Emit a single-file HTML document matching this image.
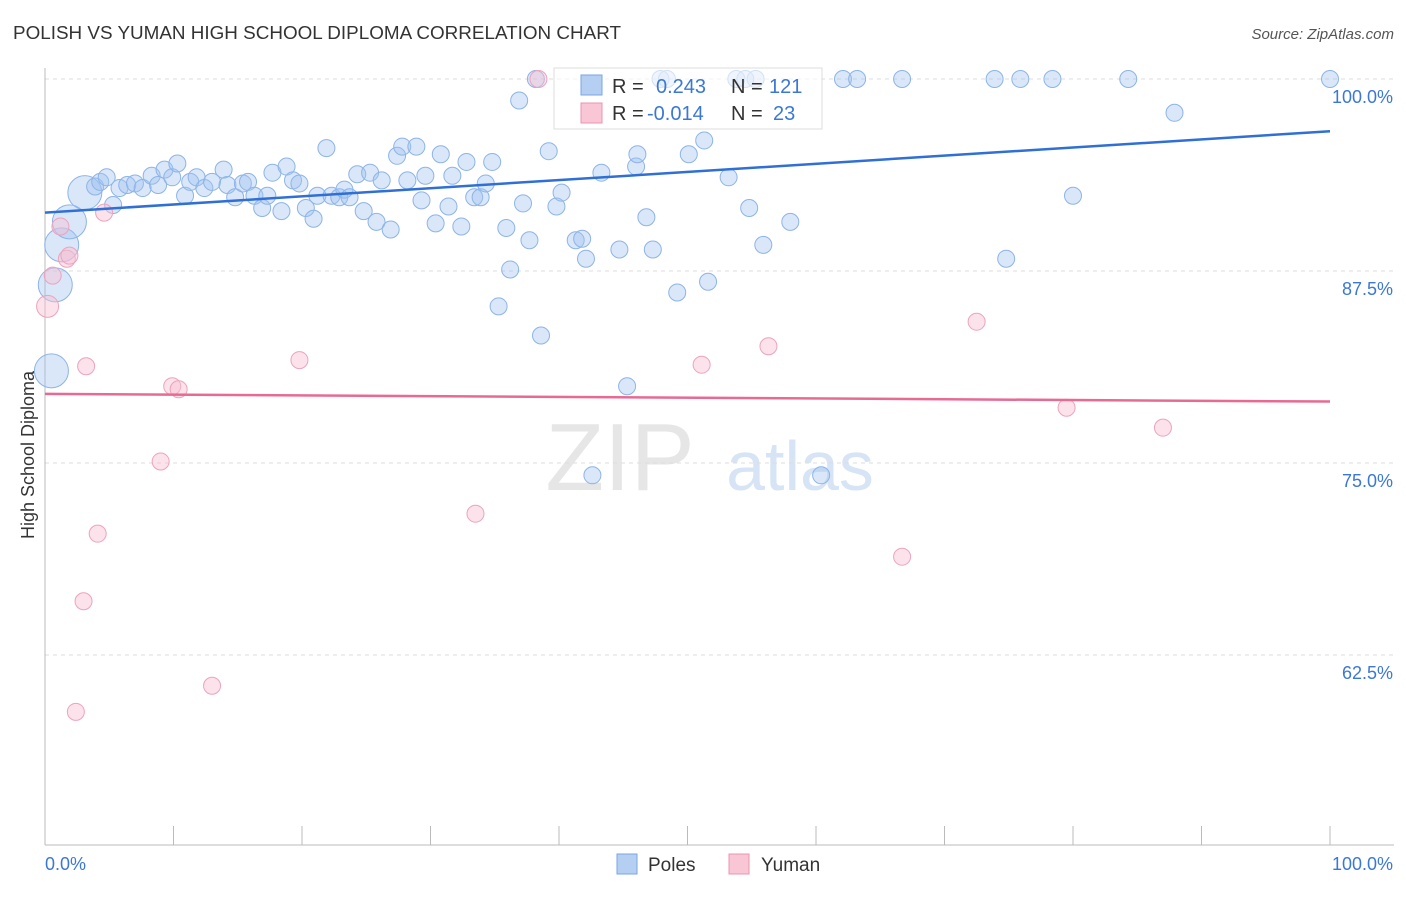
<!DOCTYPE html>
<html><head><meta charset="utf-8"><style>
body{margin:0;background:#fff;font-family:"Liberation Sans",sans-serif;}
svg text{font-family:"Liberation Sans",sans-serif;}
</style></head><body>
<svg id="chart" width="1406" height="892">
<text x="13" y="39" font-size="18" fill="#333" textLength="608" lengthAdjust="spacingAndGlyphs">POLISH VS YUMAN HIGH SCHOOL DIPLOMA CORRELATION CHART</text>
<text x="1394" y="39" font-size="15" fill="#555" text-anchor="end" font-style="italic">Source: ZipAtlas.com</text>
<text x="620" y="490" font-size="96" fill="#e6e6e6" font-family="Liberation Serif" text-anchor="middle">ZIP</text>
<text x="800" y="490" font-size="70" fill="#d6e4f5" text-anchor="middle">atlas</text>
<g id="grid"></g><g id="axes"></g><g id="pts"></g><g id="lines"></g>
<text transform="translate(34,455) rotate(-90)" font-size="18" fill="#333" text-anchor="middle">High School Diploma</text>
<g>
<rect x="554" y="68" width="268" height="61" fill="rgba(255,255,255,0.6)" stroke="#ddd"/>
<rect x="581" y="75" width="21" height="20" fill="#b5cff2" stroke="#7aa6e0"/>
<rect x="581" y="103" width="21" height="20" fill="#f9c6d6" stroke="#eb94b0"/>
<text x="612" y="93" font-size="20" fill="#333">R =</text><text x="656" y="93" font-size="20" fill="#3b78d6">0.243</text>
<text x="731" y="93" font-size="20" fill="#333">N =</text><text x="769" y="93" font-size="20" fill="#3b78d6">121</text>
<text x="612" y="120" font-size="20" fill="#333">R =</text><text x="647" y="120" font-size="20" fill="#3b78d6">-0.014</text>
<text x="731" y="120" font-size="20" fill="#333">N =</text><text x="773" y="120" font-size="20" fill="#3b78d6">23</text>
</g>
<g>
<rect x="617" y="854" width="20" height="20" fill="#b5cff2" stroke="#7aa6e0"/><text x="648" y="871" font-size="19" fill="#333">Poles</text>
<rect x="729" y="854" width="20" height="20" fill="#f9c6d6" stroke="#eb94b0"/><text x="761" y="871" font-size="19" fill="#333">Yuman</text>
</g>
</svg>
<script>
const blueX=[0.5,0.8,1.3,1.9,3.1,3.9,4.3,4.8,5.3,5.8,6.4,7.0,7.6,8.3,8.8,9.3,9.9,10.3,10.9,11.3,11.8,12.4,13.0,13.9,14.2,14.8,15.4,15.8,16.3,16.9,17.3,17.7,18.4,18.8,19.3,19.8,20.3,20.9,21.2,21.9,22.3,22.9,23.3,23.7,24.3,24.8,25.3,25.8,26.2,26.9,27.4,27.8,28.2,28.9,29.3,29.6,30.4,30.8,31.4,31.7,32.4,32.8,33.4,33.9,34.3,34.8,35.3,35.9,36.2,36.9,37.2,37.7,38.2,38.6,39.2,39.8,40.2,41.3,41.8,42.1,42.6,43.3,44.7,45.3,46.0,46.1,46.8,47.3,47.9,48.4,49.2,50.1,51.3,51.6,53.2,53.8,54.5,54.8,55.3,55.9,58.0,60.4,62.1,63.2,66.7,73.9,75.9,78.4,74.8,80.0,84.3,87.9,100];
const blueY=[81.0,86.6,89.2,90.7,92.6,93.0,93.3,93.6,91.8,92.9,93.1,93.2,92.9,93.7,93.1,94.1,93.6,94.5,92.4,93.3,93.6,92.9,93.3,94.1,93.1,92.3,93.2,93.3,92.4,91.6,92.4,93.9,91.4,94.3,93.4,93.2,91.6,90.9,92.4,95.5,92.4,92.3,92.8,92.3,93.8,91.4,93.9,90.7,93.4,90.2,95.0,95.6,93.4,95.6,92.1,93.7,90.6,95.1,91.7,93.7,90.4,94.6,92.3,92.3,93.2,94.6,85.2,90.3,87.6,98.6,91.9,89.5,100,83.3,95.3,91.7,92.6,89.5,89.6,88.3,74.2,93.9,88.9,80.0,94.3,95.1,91.0,88.9,100,100,86.1,95.1,96.0,86.8,93.6,100,100,91.6,100,89.2,90.7,74.2,100,100,100,100,100,100,88.3,92.4,100,97.8,100];
const blueBig=[0,1,2,3,4];
const pinkX=[0.2,0.6,1.2,1.7,1.9,3.2,3.0,2.4,4.1,4.6,9.0,9.9,10.4,13.0,19.8,33.5,38.4,51.1,56.3,66.7,72.5,79.5,87.0];
const pinkY=[85.2,87.2,90.4,88.3,88.5,81.3,66.0,58.8,70.4,91.3,75.1,80.0,79.8,60.5,81.7,71.7,100,81.4,82.6,68.9,84.2,78.6,77.3];
const blueTrend=[91.3,96.6];
const pinkTrend=[79.5,79.0];
const yTicks=[100,87.5,75,62.5];
const yTickLabels=["100.0%","87.5%","75.0%","62.5%"];
const NS='http://www.w3.org/2000/svg';
const xs=v=>45+v*12.85, ys=v=>79+(100-v)*15.36;
function mk(tag,parent,attrs){const e=document.createElementNS(NS,tag);for(const k in attrs)e.setAttribute(k,attrs[k]);document.getElementById(parent).appendChild(e);return e;}
yTicks.forEach((t,i)=>{
 const g=mk('line','grid',{x1:45,x2:1394,y1:ys(t),y2:ys(t),stroke:'#ddd','stroke-dasharray':'4,4'});
 
 
 const l=mk('text','grid',{x:1393,y:ys(t)+24,'font-size':18,fill:'#3b78d6','text-anchor':'end'});l.textContent=yTickLabels[i];
 
 
});
const ax=mk('line','axes',{x1:45,x2:45,y1:68,y2:845,stroke:'#bbb'});


const bx=mk('line','axes',{x1:45,x2:1394,y1:845,y2:845,stroke:'#bbb'});


for(let i=0;i<=10;i++){const t=mk('line','axes',{x1:xs(i*10),x2:xs(i*10),y1:826,y2:845,stroke:'#bbb'});
 
 }
const x0=mk('text','axes',{x:45,y:870,'font-size':18,fill:'#3b78d6'});x0.textContent='0.0%';


const x1=mk('text','axes',{x:1393,y:870,'font-size':18,fill:'#3b78d6','text-anchor':'end'});x1.textContent='100.0%';


blueX.forEach((v,i)=>{const c=mk('circle','pts',{cx:xs(v),cy:ys(blueY[i]),r:blueBig.includes(i)?17:8.5,fill:'rgba(160,195,240,0.4)',stroke:'#8db4e8','stroke-width':1});
 
 });
pinkX.forEach((v,i)=>{const c=mk('circle','pts',{cx:xs(v),cy:ys(pinkY[i]),r:i==0?11:8.5,fill:'rgba(248,190,210,0.45)',stroke:'#eda3bc','stroke-width':1});
 
 });
const bl=mk('line','lines',{x1:xs(0),x2:xs(100),y1:ys(blueTrend[0]),y2:ys(blueTrend[1]),stroke:'#2f6fd6','stroke-width':2.5});


const pl=mk('line','lines',{x1:xs(0),x2:xs(100),y1:ys(pinkTrend[0]),y2:ys(pinkTrend[1]),stroke:'#e86a93','stroke-width':2.5});


</script>
</body></html>
